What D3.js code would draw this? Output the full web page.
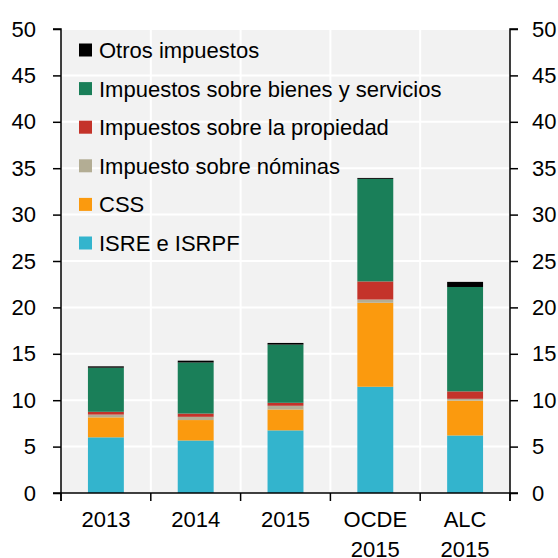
<!DOCTYPE html>
<html>
<head>
<meta charset="utf-8">
<script src="https://cdn.jsdelivr.net/npm/d3@7"></script>
<style>
    body { margin: 0; background: #fff; }
    svg text { font-family: "Liberation Sans", Arial, sans-serif; fill: #000; }
</style>
</head>
<body>
<div id="chart"></div>
<script>
// categories and stacked series (% of GDP)
const categories = ["2013", "2014", "2015", "OCDE 2015", "ALC 2015"];
const isre     = [6.0, 5.66, 6.75, 11.45, 6.2];
const css      = [2.15, 2.2, 2.25, 9.05, 3.75];
const nominas  = [0.3, 0.35, 0.4, 0.35, 0.2];
const propiedad = [0.3, 0.35, 0.32, 1.95, 0.8];
const bienes   = [4.75, 5.5, 6.27, 11.05, 11.25];
const otros    = [0.15, 0.2, 0.18, 0.1, 0.55];
const yTicks = [0, 5, 10, 15, 20, 25, 30, 35, 40, 45, 50];

const series = [
    { key: "isre", name: "ISRE e ISRPF", values: isre, color: "#33b4cd" },
    { key: "css", name: "CSS", values: css, color: "#fb9a0e" },
    { key: "nominas", name: "Impuesto sobre nóminas", values: nominas, color: "#b3ad94" },
    { key: "propiedad", name: "Impuestos sobre la propiedad", values: propiedad, color: "#c4332a" },
    { key: "bienes", name: "Impuestos sobre bienes y servicios", values: bienes, color: "#1a7f59" },
    { key: "otros", name: "Otros impuestos", values: otros, color: "#000000" }
];

let W = 558, H = 558;
let margin = {top: 29, right: 48, bottom: 65, left: 61};

let svg = d3.select("#chart").append("svg")
    .attr("width", W)
    .attr("height", H);

let xScale = d3.scaleBand()
    .domain(categories)
    .range([margin.left, W - margin.right]);

let barScale = d3.scaleBand()
    .domain(categories)
    .range([margin.left, W - margin.right])
    .paddingInner(0.6)
    .paddingOuter(0.3);

let yScale = d3.scaleLinear()
    .domain([0, 50])
    .range([H - margin.bottom, margin.top]);

let x0 = margin.left, x1 = W - margin.right;
let yTop = yScale(50), yBot = yScale(0);

// plot background
svg.append("rect")
    .attr("x", x0).attr("y", yTop)
    .attr("width", x1 - x0).attr("height", yBot - yTop)
    .attr("fill", "#f2f2f2");

// grid
svg.append("g").selectAll("line.h")
    .data(yTicks.slice(1))
    .enter().append("line")
    .attr("x1", x0).attr("x2", x1)
    .attr("y1", (d) => yScale(d)).attr("y2", (d) => yScale(d))
    .attr("stroke", "#fff").attr("stroke-width", 2);

svg.append("g").selectAll("line.v")
    .data(categories.slice(1))
    .enter().append("line")
    .attr("x1", (d) => xScale(d)).attr("x2", (d) => xScale(d))
    .attr("y1", yTop).attr("y2", yBot)
    .attr("stroke", "#fff").attr("stroke-width", 2);

// stacked bars
let table = categories.map((c, i) => {
    let row = { cat: c };
    series.forEach((s) => { row[s.key] = s.values[i]; });
    return row;
});
let stacked = d3.stack().keys(series.map((s) => s.key))(table);

svg.append("g").selectAll("g")
    .data(stacked)
    .enter().append("g")
    .attr("fill", (d, i) => series[i].color)
    .selectAll("rect")
    .data((d) => d)
    .enter().append("rect")
    .attr("x", (d) => barScale(d.data.cat))
    .attr("width", barScale.bandwidth())
    .attr("y", (d) => yScale(d[1]))
    .attr("height", (d) => yScale(d[0]) - yScale(d[1]));

// axes
let leftAxis = svg.append("g")
    .attr("transform", "translate(" + x0 + ",0)")
    .call(d3.axisLeft(yScale).tickValues(yTicks).tickSize(8).tickPadding(17));

let rightAxis = svg.append("g")
    .attr("transform", "translate(" + x1 + ",0)")
    .call(d3.axisRight(yScale).tickValues(yTicks).tickSize(8).tickPadding(14));

let bottomAxis = svg.append("g")
    .attr("transform", "translate(0," + yBot + ")")
    .call(d3.axisBottom(xScale).tickSize(0).tickFormat(""));

// bottom ticks at the category boundaries
svg.append("g").selectAll("line")
    .data(categories.map((c) => xScale(c)).concat([x1]))
    .enter().append("line")
    .attr("x1", (d) => d).attr("x2", (d) => d)
    .attr("y1", yBot).attr("y2", yBot + 8)
    .attr("stroke", "#000").attr("stroke-width", 1.5);

[leftAxis, rightAxis, bottomAxis].forEach((a) => {
    a.select(".domain").attr("stroke", "#000").attr("stroke-width", 1.5);
    a.selectAll(".tick line").attr("stroke", "#000").attr("stroke-width", 1.5);
    a.selectAll(".tick text").style("font-size", "22px").attr("fill", "#000")
        .style("font-family", "'Liberation Sans', Arial, sans-serif");
});
leftAxis.select(".domain").attr("d", "M-8," + yTop + "H0V" + (yBot + 8));
rightAxis.select(".domain").attr("d", "M8," + yTop + "H0V" + (yBot + 8));
bottomAxis.select(".domain").attr("d", "M" + (x0 - 8) + ",0H" + (x1 + 8));

// category labels (two lines for the comparators)
let catLabels = svg.append("g").selectAll("text")
    .data(categories)
    .enter().append("text")
    .attr("x", (d) => xScale(d) + xScale.bandwidth() / 2)
    .attr("y", 527)
    .attr("text-anchor", "middle")
    .style("font-size", "22px");

catLabels.each(function (d) {
    let parts = d.split(" ");
    let t = d3.select(this);
    parts.forEach((p, i) => {
        t.append("tspan")
            .attr("x", xScale(d) + xScale.bandwidth() / 2)
            .attr("dy", i === 0 ? 0 : 30)
            .text(p);
    });
});

// legend
let legendItems = series.slice().reverse();
let legend = svg.append("g").selectAll("g")
    .data(legendItems)
    .enter().append("g")
    .attr("transform", (d, i) => "translate(79," + (50 + i * 38.6) + ")");

legend.append("rect")
    .attr("x", 0).attr("y", -6.5)
    .attr("width", 13).attr("height", 13)
    .attr("fill", (d) => d.color);

legend.append("text")
    .attr("x", 20)
    .attr("y", 8)
    .style("font-size", "22px")
    .text((d) => d.name);
</script>
</body>
</html>
